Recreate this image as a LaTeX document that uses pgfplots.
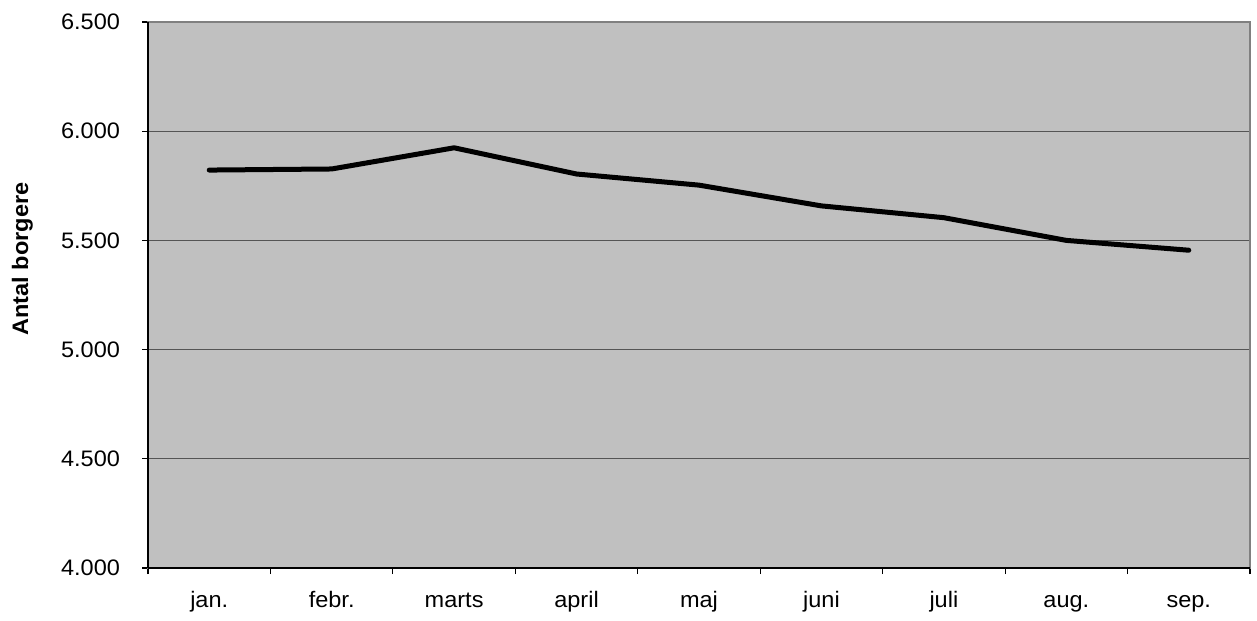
\documentclass[border=0pt]{standalone}
\usepackage{fontspec}
\setmainfont{Liberation Sans}[FakeStretch=1.05]
\usepackage{pgfplots}
\pgfplotsset{compat=1.18}
\definecolor{plotbg}{HTML}{C0C0C0}
\definecolor{gridc}{HTML}{555555}
\begin{document}
\begin{tikzpicture}
\begin{axis}[
  scale only axis,
  width=551pt, height=273pt,
  xmin=-0.5, xmax=8.5,
  ymin=4000, ymax=6500,
  ytick={4000,4500,5000,5500,6000,6500},
  xtick={0,...,8},
  xticklabels={jan.,febr.,marts,april,maj,juni,juli,aug.,sep.},
  minor xtick={-0.5,0.5,...,8.5},
  major x tick style={draw=none},
  xtick pos=bottom, ytick pos=left,
  tick align=outside,
  major tick length=3pt,
  minor tick length=3pt,
  tick style={black, line width=0.6pt},
  ymajorgrids,
  grid style={gridc, line width=0.5pt},
  axis background/.style={fill=plotbg},
  axis line style={draw=gray, line width=0.6pt},
  scaled y ticks=false,
  /pgf/number format/.cd, 1000 sep={.}, assume math mode=true,
  /pgfplots/.cd,
  tick label style={font=\fontsize{11.2}{13}\selectfont},
  yticklabel style={anchor=east, xshift=-7.5pt},
  xticklabel style={anchor=north, yshift=-5pt, text height=1.6ex, text depth=0.4ex},
  ylabel={\bfseries Antal borgere},
  ylabel style={font=\fontsize{11.2}{13}\selectfont, at={(axis description cs:-0.114,0.566)}, anchor=center},
  clip=false,
]
\addplot[black, line width=2.5pt, line join=round, line cap=round] coordinates {
  (0,5822) (1,5827) (2,5924) (3,5804) (4,5753) (5,5658) (6,5604) (7,5500) (8,5455)
};
\draw[black, line width=0.7pt] (rel axis cs:0,0) -- (rel axis cs:0,1);
\draw[black, line width=0.7pt] (rel axis cs:0,0) -- (rel axis cs:1,0);
\end{axis}
\path (current axis.south west) ++(-74pt,-26pt) coordinate (bbA);
\path (current axis.north east) ++(3.5pt,11pt) coordinate (bbB);
\path (bbA) rectangle (bbB);
\end{tikzpicture}
\end{document}
